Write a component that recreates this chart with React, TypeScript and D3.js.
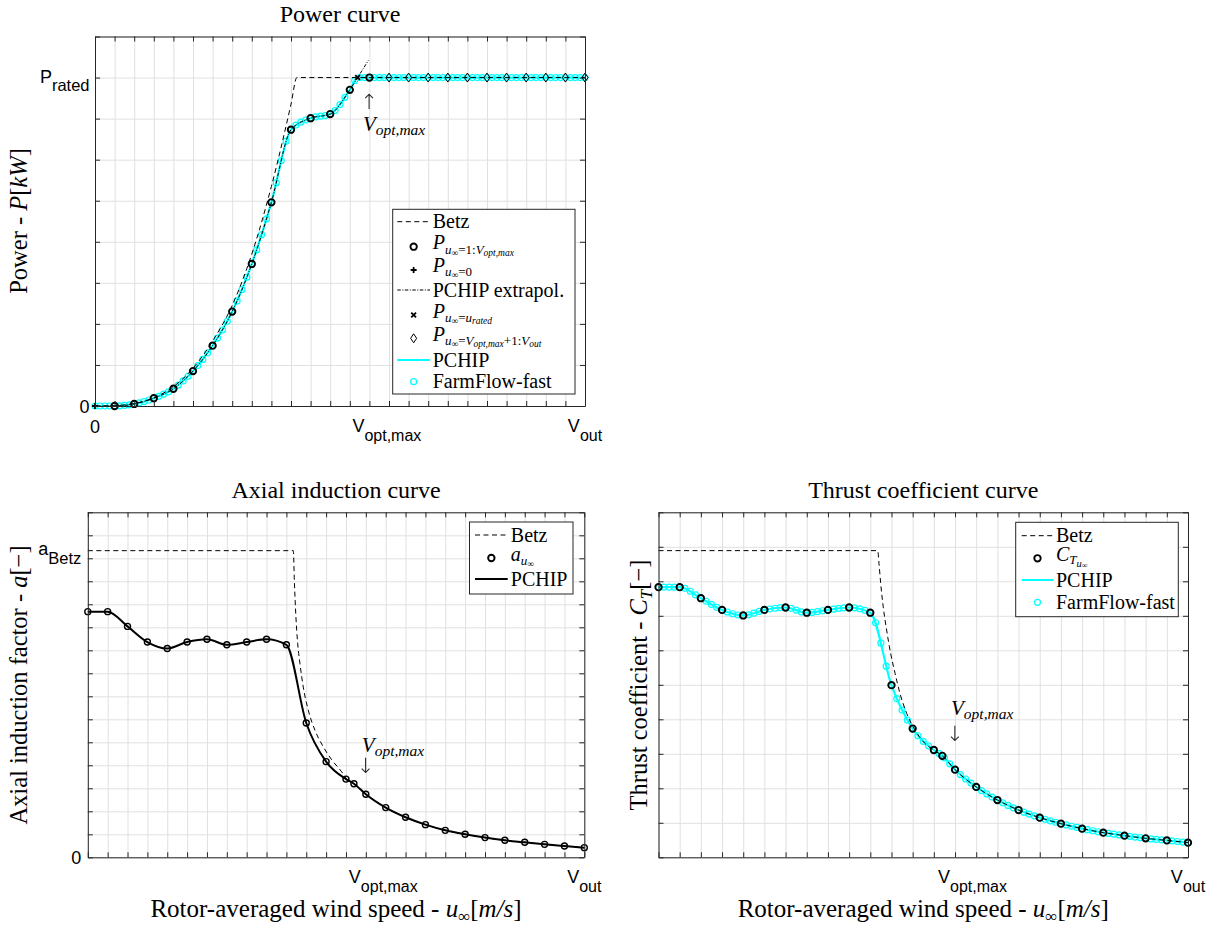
import React, { useEffect, useRef } from 'react'
import * as d3 from 'd3'

const SERIF = '"Liberation Serif", "Times New Roman", serif'
const SANS = '"Liberation Sans", Arial, Helvetica, sans-serif'
const ARROW_FONT = '"DejaVu Sans", sans-serif'
const CYAN = '#00ffff'
const INK = '#262626'
const GRID = '#e0e0e0'

// Shared x axis: rotor-averaged wind speed (m/s)
const windTicks = [0, 1, 2, 3, 4, 5, 6, 7, 8, 9, 10, 11, 12, 13, 14, 15, 16, 17, 18, 19, 20, 21, 22, 23, 24, 25]
const V_OPT_MAX = 14
const V_OUT = 25
const U_RATED = 13.4
const FARMFLOW_STEP = 0.25 // m/s between FarmFlow-fast outputs

// Power curve (in eighths of P_rated)
const P_RATED = 8
const powerTicks = [0, 1, 2, 3, 4, 5, 6, 7, 8, 9]
const powerU = [1, 2, 3, 4, 5, 6, 7, 8, 9, 10, 11, 12, 13, 14]
const powerP = [0.0, 0.05, 0.19, 0.42, 0.85, 1.47, 2.3, 3.46, 4.96, 6.73, 7.01, 7.11, 7.7, 8.0]
const powerAboveU = [15, 16, 17, 18, 19, 20, 21, 22, 23, 24, 25]
const powerAboveP = [8, 8, 8, 8, 8, 8, 8, 8, 8, 8, 8]
const powerPchipU = [0, 1, 2, 3, 4, 5, 6, 7, 8, 9, 10, 11, 12, 13, 13.4, 14, 15, 16, 17, 18, 19, 20, 21, 22, 23, 24, 25]
const powerPchipP = [0, 0, 0.05, 0.19, 0.42, 0.85, 1.47, 2.3, 3.46, 4.96, 6.73, 7.01, 7.11, 7.7, 8, 8, 8, 8, 8, 8, 8, 8, 8, 8, 8, 8, 8]
const powerExtrapU = [0, 1, 2, 3, 4, 5, 6, 7, 8, 9, 10, 11, 12, 13, 13.4, 13.95]
const powerExtrapP = [0, 0, 0.05, 0.19, 0.42, 0.85, 1.47, 2.3, 3.46, 4.96, 6.73, 7.01, 7.11, 7.7, 8.0, 8.42]
const betzPowerU = [0, 1, 2, 3, 4, 5, 6, 7, 8, 9, 10, 10.3, 25]
const betzPowerP = [0, 0.01, 0.06, 0.2, 0.47, 0.92, 1.58, 2.45, 3.7, 5.35, 7.35, 8, 8]

// Axial induction curve
const A_BETZ = 1 / 3
const inductionTicks = [0, 0.025, 0.05, 0.075, 0.1, 0.125, 0.15, 0.175, 0.2, 0.225, 0.25, 0.275, 0.3, 0.325, 0.35, 0.375]
const curveU = [0, 1, 2, 3, 4, 5, 6, 7, 8, 9, 10, 11, 12, 13, 13.4, 14, 15, 16, 17, 18, 19, 20, 21, 22, 23, 24, 25]
const inductionA = [0.267, 0.267, 0.251, 0.234, 0.227, 0.234, 0.237, 0.231, 0.234, 0.237, 0.231, 0.146, 0.104, 0.085, 0.08, 0.0685, 0.054, 0.0435, 0.0355, 0.0293, 0.025, 0.0214, 0.0185, 0.0163, 0.0141, 0.0123, 0.0105]
const betzInductionU = [0, 10.35, 10.4, 10.48, 10.57, 10.68, 10.85, 11.1, 11.44, 11.86, 12.28, 12.78, 13.0, 13.4, 14, 15, 16, 17, 18, 19, 20, 21, 22, 23, 24, 25]
const betzInductionA = [0.3333, 0.3333, 0.301, 0.261, 0.232, 0.211, 0.185, 0.16, 0.138, 0.12, 0.106, 0.093, 0.086, 0.08, 0.0685, 0.054, 0.0435, 0.0355, 0.0293, 0.025, 0.0214, 0.0185, 0.0163, 0.0141, 0.0123, 0.0105]

// Thrust coefficient curve
const thrustTicks = [0, 0.1, 0.2, 0.3, 0.4, 0.5, 0.6, 0.7, 0.8, 0.9, 1.0]
const thrustCT = [0.783, 0.783, 0.751, 0.717, 0.701, 0.717, 0.724, 0.709, 0.717, 0.724, 0.709, 0.499, 0.373, 0.311, 0.294, 0.254, 0.204, 0.166, 0.137, 0.115, 0.0976, 0.0831, 0.0715, 0.0628, 0.055, 0.049, 0.0425]
const betzThrustU = [0, 10.35, 10.41, 10.49, 10.61, 10.77, 10.96, 11.17, 11.4, 11.72, 12.11, 12.58, 13.0, 13.4, 14, 15, 16, 17, 18, 19, 20, 21, 22, 23, 24, 25]
const betzThrustCT = [0.8889, 0.8889, 0.852, 0.794, 0.726, 0.659, 0.591, 0.533, 0.475, 0.417, 0.369, 0.33, 0.311, 0.294, 0.254, 0.204, 0.166, 0.137, 0.115, 0.0976, 0.0831, 0.0715, 0.0628, 0.055, 0.049, 0.0425]

type Part = [string, number, number, boolean?] // text, size, baseline shift, italic

const pairs = (us: number[], vs: number[]) => us.map((u, i) => [u, vs[i]])

function addParts(text: any, parts: Part[]) {
  let shift = 0
  parts.forEach(([t, size, dy, italic]) => {
    text.append('tspan')
      .attr('dy', dy - shift)
      .attr('font-size', size)
      .attr('font-style', italic ? 'italic' : 'normal')
      .text(t)
    shift = dy
  })
}

function label(g: any, x: number, y: number, anchor: string, family: string, parts: Part[], rotate = false) {
  const t = g.append('text')
    .attr('text-anchor', anchor)
    .attr('font-family', family)
    .attr('fill', '#000')
    .style('white-space', 'pre')
  if (rotate) t.attr('transform', `translate(${x},${y}) rotate(-90)`)
  else t.attr('x', x).attr('y', y)
  addParts(t, parts)
  return t
}

function arrow(g: any, x: number, y: number, glyph: string) {
  g.append('text')
    .attr('x', x).attr('y', y)
    .attr('text-anchor', 'middle')
    .attr('font-family', ARROW_FONT)
    .attr('font-weight', 200)
    .attr('font-size', 21)
    .attr('fill', '#222')
    .style('filter', 'grayscale(1)')
    .text(glyph)
}

function lineGen(x: any, y: any) {
  return d3.line<number[]>().x(d => x(d[0])).y(d => y(d[1])).curve(d3.curveMonotoneX)
}

function axesGrid(g: any, x: any, y: any, yTicks: number[]) {
  const [x0, x1] = x.range()
  const [yb, yt] = y.range()
  g.append('g')
    .attr('transform', `translate(0,${yb})`)
    .call(d3.axisBottom(x).tickValues(windTicks).tickSize(-(yb - yt)).tickFormat(() => ''))
    .call((s: any) => s.select('.domain').remove())
    .selectAll('line').attr('stroke', GRID)
  g.append('g')
    .attr('transform', `translate(${x0},0)`)
    .call(d3.axisLeft(y).tickValues(yTicks).tickSize(-(x1 - x0)).tickFormat(() => ''))
    .call((s: any) => s.select('.domain').remove())
    .selectAll('line').attr('stroke', GRID)
}

function axesBox(g: any, x: any, y: any, yTicks: number[]) {
  const [x0, x1] = x.range()
  const [yb, yt] = y.range()
  const tl = 5
  const sides: [any, string][] = [
    [d3.axisBottom(x).tickValues(windTicks), `translate(0,${yb})`],
    [d3.axisTop(x).tickValues(windTicks), `translate(0,${yt})`],
    [d3.axisLeft(y).tickValues(yTicks), `translate(${x0},0)`],
    [d3.axisRight(y).tickValues(yTicks), `translate(${x1},0)`],
  ]
  sides.forEach(([ax, tr]) => {
    const a = g.append('g')
      .attr('transform', tr)
      .call(ax.tickSizeInner(-tl).tickSizeOuter(0).tickFormat(() => ''))
    a.selectAll('line').attr('stroke', INK)
    a.select('.domain').attr('stroke', INK)
  })
}

function drawCircles(g: any, pts: number[][], x: any, y: any, r: number, stroke: string, sw: number) {
  g.append('g').selectAll('circle').data(pts).join('circle')
    .attr('cx', (d: number[]) => x(d[0]))
    .attr('cy', (d: number[]) => y(d[1]))
    .attr('r', r)
    .attr('fill', 'none')
    .attr('stroke', stroke)
    .attr('stroke-width', sw)
}

const plusPath = (cx: number, cy: number, s: number) => `M${cx - s},${cy}H${cx + s}M${cx},${cy - s}V${cy + s}`
const crossPath = (cx: number, cy: number, s: number) =>
  `M${cx - s},${cy - s}L${cx + s},${cy + s}M${cx - s},${cy + s}L${cx + s},${cy - s}`
const diamondPath = (cx: number, cy: number, w: number, h: number) =>
  `M${cx},${cy - h}L${cx + w},${cy}L${cx},${cy + h}L${cx - w},${cy}Z`

// FarmFlow-fast markers sit on the drawn PCHIP line, one per model output speed
function farmFlowMarkers(g: any, path: SVGPathElement, x: any) {
  const total = path.getTotalLength()
  const speeds = d3.range(0, V_OUT + 1e-6, FARMFLOW_STEP)
  const pts = speeds.map(u => {
    const px = x(u)
    let lo = 0
    let hi = total
    for (let i = 0; i < 28; i++) {
      const mid = (lo + hi) / 2
      if (path.getPointAtLength(mid).x < px) lo = mid
      else hi = mid
    }
    const p = path.getPointAtLength((lo + hi) / 2)
    return [p.x, p.y]
  })
  g.append('g').selectAll('circle').data(pts).join('circle')
    .attr('cx', (d: number[]) => d[0])
    .attr('cy', (d: number[]) => d[1])
    .attr('r', 3)
    .attr('fill', 'none')
    .attr('stroke', CYAN)
    .attr('stroke-width', 1.2)
}

function xTickLabels(g: any, x: any, y: any, withZero: boolean) {
  const yb = y.range()[0]
  if (withZero) label(g, x(0), yb + 27, 'middle', SANS, [['0', 18, 0]])
  label(g, x(V_OPT_MAX) - 17, yb + 26, 'start', SANS, [['V', 18, 0], ['opt,max', 16, 8.5]])
  label(g, x(V_OUT), yb + 26, 'middle', SANS, [['V', 18, 0], ['out', 16, 8.5]])
}

const xLabelParts: Part[] = [
  ['Rotor-averaged wind speed - ', 25, 0], ['u', 25, 0, true], ['\u221e', 17, 5], ['[', 25, 0], ['m/s', 25, 0, true], [']', 25, 0],
]

interface LegendRow { y: number; sym: string; text: Part[]; base: number }
interface LegendBox { x: number; y: number; w: number; h: number; l0: number; l1: number; tx: number }

function drawLegend(g: any, box: LegendBox, rows: LegendRow[]) {
  g.append('rect')
    .attr('x', box.x).attr('y', box.y).attr('width', box.w).attr('height', box.h)
    .attr('fill', '#fff').attr('stroke', INK).attr('stroke-width', 1)
  const mx = (box.l0 + box.l1) / 2
  rows.forEach(r => {
    const s = g.append('g').attr('fill', 'none').attr('stroke', '#000')
    if (r.sym === 'dash') s.append('line').attr('x1', box.l0).attr('x2', box.l1).attr('y1', r.y).attr('y2', r.y).attr('stroke-dasharray', '5,3.5')
    if (r.sym === 'dashdot') s.append('line').attr('x1', box.l0).attr('x2', box.l1).attr('y1', r.y).attr('y2', r.y).attr('stroke-dasharray', '3.5,1.5,1,1.5')
    if (r.sym === 'cyanline') s.append('line').attr('x1', box.l0).attr('x2', box.l1).attr('y1', r.y).attr('y2', r.y).attr('stroke', CYAN).attr('stroke-width', 2.2)
    if (r.sym === 'blackline') s.append('line').attr('x1', box.l0).attr('x2', box.l1).attr('y1', r.y).attr('y2', r.y).attr('stroke-width', 2)
    if (r.sym === 'circle') s.append('circle').attr('cx', mx).attr('cy', r.y).attr('r', 3.2).attr('stroke-width', 1.9)
    if (r.sym === 'cyancircle') s.append('circle').attr('cx', mx).attr('cy', r.y).attr('r', 3).attr('stroke', CYAN).attr('stroke-width', 1.2)
    if (r.sym === 'plus') s.append('path').attr('d', plusPath(mx, r.y, 3)).attr('stroke-width', 1.8)
    if (r.sym === 'cross') s.append('path').attr('d', crossPath(mx, r.y, 2.4)).attr('stroke-width', 1.8)
    if (r.sym === 'diamond') s.append('path').attr('d', diamondPath(mx, r.y, 3, 4.5)).attr('stroke-width', 1)
    label(g, box.tx, r.y + r.base, 'start', SERIF, r.text)
  })
}

function drawPower(svg: any) {
  const x = d3.scaleLinear().domain([0, V_OUT]).range([95, 585])
  const y = d3.scaleLinear().domain([0, 9]).range([406, 36.5])
  const g = svg.append('g')
  const line = lineGen(x, y)
  axesGrid(g, x, y, powerTicks)

  const pchip = g.append('path')
    .datum(pairs(powerPchipU, powerPchipP))
    .attr('d', line).attr('fill', 'none').attr('stroke', CYAN).attr('stroke-width', 2.2)
  farmFlowMarkers(g, pchip.node(), x)

  g.append('path').datum(pairs(betzPowerU, betzPowerP))
    .attr('d', line).attr('fill', 'none').attr('stroke', '#000').attr('stroke-width', 1).attr('stroke-dasharray', '5,3.5')
  g.append('path').datum(pairs(powerExtrapU, powerExtrapP))
    .attr('d', line).attr('fill', 'none').attr('stroke', '#000').attr('stroke-width', 1).attr('stroke-dasharray', '3.5,1.5,1,1.5')

  drawCircles(g, pairs(powerU, powerP), x, y, 3.2, '#000', 1.9)
  g.append('path').attr('d', plusPath(x(0), y(0), 3)).attr('stroke', '#000').attr('stroke-width', 1.8)
  g.append('path').attr('d', crossPath(x(U_RATED), y(P_RATED), 2.4)).attr('stroke', '#000').attr('stroke-width', 1.8)
  g.append('g').selectAll('path').data(pairs(powerAboveU, powerAboveP)).join('path')
    .attr('d', (d: number[]) => diamondPath(x(d[0]), y(d[1]), 3, 4.5))
    .attr('fill', 'none').attr('stroke', '#000').attr('stroke-width', 1)

  axesBox(g, x, y, powerTicks)

  label(g, 340, 21.7, 'middle', SERIF, [['Power curve', 24, 0]])
  label(g, 27, 221, 'middle', SERIF, [['Power - ', 24.5, 0], ['P', 24.5, 0, true], ['[', 24.5, 0], ['kW', 24.5, 0, true], [']', 24.5, 0]], true)
  label(g, x(0) - 5.5, y(0) + 6.5, 'end', SANS, [['0', 18, 0]])
  label(g, x(0) - 5.5, y(P_RATED) + 5, 'end', SANS, [['P', 18, 0], ['rated', 16.5, 8.5]])
  xTickLabels(g, x, y, true)

  // V_opt,max annotation
  arrow(g, x(V_OPT_MAX), y(7.26) + 1, '\u2191')
  label(g, x(V_OPT_MAX) - 6.5, y(6.69), 'start', SERIF, [['V', 21, 0, true], ['opt,max', 15.5, 4, true]])

  const P = (sub: Part[]): Part[] => [['P', 20, 0, true], ['u', 13, 4.5, true], ['\u221e', 9.5, 6.5], ...sub]
  drawLegend(g, { x: 392.7, y: 209.3, w: 182.3, h: 184.7, l0: 397.3, l1: 430, tx: 432.7 }, [
    { y: 221.7, sym: 'dash', text: [['Betz', 20, 0]], base: 6.5 },
    { y: 246.7, sym: 'circle', text: P([['=1:', 13, 4.5], ['V', 13, 4.5, true], ['opt,max', 9.5, 6.5, true]]), base: 2.5 },
    { y: 270, sym: 'plus', text: P([['=0', 13, 4.5]]), base: 1.5 },
    { y: 290, sym: 'dashdot', text: [['PCHIP extrapol.', 20, 0]], base: 7 },
    { y: 315, sym: 'cross', text: P([['=', 13, 4.5], ['u', 13, 4.5, true], ['rated', 9.5, 6.5, true]]), base: 2.5 },
    { y: 338.3, sym: 'diamond', text: P([['=', 13, 4.5], ['V', 13, 4.5, true], ['opt,max', 9.5, 6.5, true], ['+1:', 13, 4.5], ['V', 13, 4.5, true], ['out', 9.5, 6.5, true]]), base: 2.5 },
    { y: 360, sym: 'cyanline', text: [['PCHIP', 20, 0]], base: 6.5 },
    { y: 381.7, sym: 'cyancircle', text: [['FarmFlow-fast', 20, 0]], base: 6.5 },
  ])
}

function drawInduction(svg: any) {
  const x = d3.scaleLinear().domain([0, V_OUT]).range([87.8, 584.3])
  const y = d3.scaleLinear().domain([0, 0.375]).range([857.3, 512.3])
  const g = svg.append('g')
  const line = lineGen(x, y)
  axesGrid(g, x, y, inductionTicks)

  g.append('path').datum(pairs(curveU, inductionA))
    .attr('d', line).attr('fill', 'none').attr('stroke', '#000').attr('stroke-width', 2)
  g.append('path').datum(pairs(betzInductionU, betzInductionA))
    .attr('d', line).attr('fill', 'none').attr('stroke', '#000').attr('stroke-width', 1).attr('stroke-dasharray', '5,3.5')
  drawCircles(g, pairs(curveU, inductionA), x, y, 3, '#000', 1.4)

  axesBox(g, x, y, inductionTicks)

  label(g, (87.8 + 584.3) / 2, 498.3, 'middle', SERIF, [['Axial induction curve', 24, 0]])
  label(g, 27, 685, 'middle', SERIF, [['Axial induction factor - ', 24.5, 0], ['a', 24.5, 0, true], ['[\u2212]', 24.5, 0]], true)
  label(g, (87.8 + 584.3) / 2, 917, 'middle', SERIF, xLabelParts)
  label(g, x(0) - 6.5, y(0) + 6.3, 'end', SANS, [['0', 18, 0]])
  label(g, x(0) - 6.5, y(A_BETZ) + 4.3, 'end', SANS, [['a', 18, 0], ['Betz', 16.5, 9]])
  xTickLabels(g, x, y, false)

  label(g, x(V_OPT_MAX) - 4, y(0.1147), 'start', SERIF, [['V', 21, 0, true], ['opt,max', 15.5, 4, true]])
  arrow(g, x(V_OPT_MAX), y(0.0919), '\u2193')

  drawLegend(g, { x: 469.5, y: 522, w: 103.5, h: 72, l0: 475, l1: 507.7, tx: 510.8 }, [
    { y: 535, sym: 'dash', text: [['Betz', 20, 0]], base: 6.5 },
    { y: 558, sym: 'circle', text: [['a', 20, 0, true], ['u', 13, 4, true], ['\u221e', 9.5, 6]], base: 3 },
    { y: 579, sym: 'blackline', text: [['PCHIP', 20, 0]], base: 6.5 },
  ])
}

function drawThrust(svg: any) {
  const x = d3.scaleLinear().domain([0, V_OUT]).range([658.5, 1188])
  const y = d3.scaleLinear().domain([0, 1]).range([857.3, 512.3])
  const g = svg.append('g')
  const line = lineGen(x, y)
  axesGrid(g, x, y, thrustTicks)

  const pchip = g.append('path').datum(pairs(curveU, thrustCT))
    .attr('d', line).attr('fill', 'none').attr('stroke', CYAN).attr('stroke-width', 2.2)
  farmFlowMarkers(g, pchip.node(), x)
  g.append('path').datum(pairs(betzThrustU, betzThrustCT))
    .attr('d', line).attr('fill', 'none').attr('stroke', '#000').attr('stroke-width', 1).attr('stroke-dasharray', '5,3.5')
  drawCircles(g, pairs(curveU, thrustCT), x, y, 3.2, '#000', 1.9)

  axesBox(g, x, y, thrustTicks)

  const cx = (658.5 + 1188) / 2
  label(g, cx, 497.7, 'middle', SERIF, [['Thrust coefficient curve', 24, 0]])
  label(g, 647, 685, 'middle', SERIF, [['Thrust coefficient - ', 24.5, 0], ['C', 24.5, 0, true], ['T', 17, 5, true], ['[\u2212]', 24.5, 0]], true)
  label(g, cx, 917, 'middle', SERIF, xLabelParts)
  xTickLabels(g, x, y, false)

  label(g, x(V_OPT_MAX) - 4, y(0.4125), 'start', SERIF, [['V', 21, 0, true], ['opt,max', 15.5, 4, true]])
  arrow(g, x(V_OPT_MAX), y(0.338), '\u2193')

  drawLegend(g, { x: 1015.7, y: 522.3, w: 162.6, h: 94.4, l0: 1021.7, l1: 1053.3, tx: 1056 }, [
    { y: 535.7, sym: 'dash', text: [['Betz', 20, 0]], base: 6.5 },
    { y: 558.3, sym: 'circle', text: [['C', 20, 0, true], ['T', 13, 3.5, true], ['u', 10.5, 6, true], ['\u221e', 8, 7.5]], base: 2.5 },
    { y: 580, sym: 'cyanline', text: [['PCHIP', 20, 0]], base: 6.5 },
    { y: 602.3, sym: 'cyancircle', text: [['FarmFlow-fast', 20, 0]], base: 6.5 },
  ])
}

const App: React.FC = () => {
  const svgRef = useRef<SVGSVGElement>(null)

  useEffect(() => {
    if (!svgRef.current) return
    const svg = d3.select(svgRef.current)
    svg.selectAll('*').remove()
    drawPower(svg)
    drawInduction(svg)
    drawThrust(svg)
  }, [])

  return (
    <svg
      ref={svgRef}
      width={1216}
      height={927}
      style={{ position: 'absolute', left: 0, top: 0, background: '#fff' }}
    />
  )
}

export default App
